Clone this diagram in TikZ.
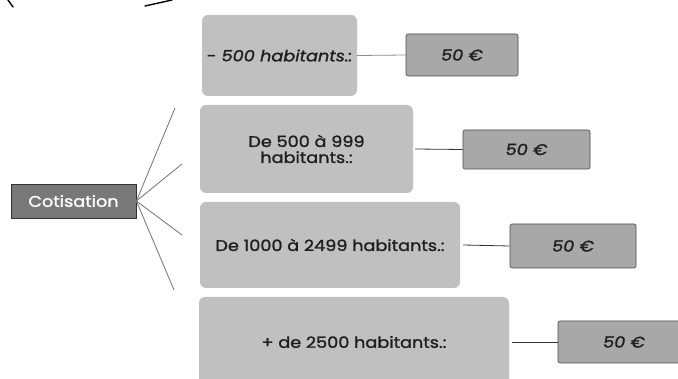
\documentclass[tikz,border=0pt]{standalone}
\usepackage{fontspec}
\setmainfont{Poppins}[FakeBold=1.4, FakeStretch=1.14]
\begin{document}
\begin{tikzpicture}[x=1pt,y=-1pt,
  rangebox/.style={draw=none, fill=rangegray, rounded corners=6pt, align=center,
    text=black!88, font=\fontsize{15.5}{16}\selectfont, inner sep=0pt},
  pricebox/.style={draw=black!70, line width=0.6pt, fill=pricegray, rounded corners=2pt,
    text=black!88, font=\fontsize{15.5}{16}\selectfont\itshape, inner sep=0pt},
  rootbox/.style={draw=black!80, line width=0.8pt, fill=rootgray, text=white,
    font=\fontsize{15.5}{16}\selectfont, inner sep=0pt},
  link/.style={draw=black!80, line width=0.8pt},
  spoke/.style={draw=black!55, line width=0.8pt},
  pen/.style={draw=black, line width=1.4pt, line cap=round}]
\definecolor{rangegray}{RGB}{192,192,192}
\definecolor{pricegray}{RGB}{168,168,168}
\definecolor{rootgray}{RGB}{120,120,120}

\useasboundingbox (0,0) rectangle (678,379);
\clip (0,0) rectangle (678,379);
\fill[white] (0,0) rectangle (678,379);

% pen strokes along the top edge
\draw[pen] (8,0) .. controls (10,3) .. (13,7);
\draw[pen] (145,6) .. controls (158,3) .. (172,0);

% root of the tree
\node[rootbox, minimum width=125pt, minimum height=34pt] (cot) at (73.5,201) {Cotisation};

% population ranges
\node[rangebox, minimum width=155pt, minimum height=81pt] (r1) at (279.5,55.5) {\itshape - 500 habitants.:};
\node[rangebox, minimum width=213pt, minimum height=88pt] (r2) at (306.5,149) {De 500 à 999\\habitants.:};
\node[rangebox, minimum width=260pt, minimum height=86pt] (r3) at (330,245) {De 1000 à 2499 habitants.:};
\node[rangebox, minimum width=310pt, minimum height=90pt] (r4) at (354,342) {+ de 2500 habitants.:};

% fees
\node[pricebox, minimum width=112pt, minimum height=42pt] (p1) at (462,55) {50 €};
\node[pricebox, minimum width=127pt, minimum height=39pt] (p2) at (526.5,149.5) {50 €};
\node[pricebox, minimum width=126pt, minimum height=44pt] (p3) at (573,246) {50 €};
\node[pricebox, minimum width=132pt, minimum height=42pt] (p4) at (624,342) {50 €};

% range to fee connectors
\draw[link, draw=black!45] (r1.east) -- (p1.west);
\draw[link] ([xshift=2pt]r2.east) -- (p2.west);
\draw[link] ([xshift=3pt]r3.east) -- (p3.west);
\draw[link] ([xshift=3pt]r4.east) -- (p4.west);

% spokes fanning out of the root
\coordinate (s1) at (175,108);
\coordinate (s2) at (182,164);
\coordinate (s3) at (182,235);
\coordinate (s4) at (174,290);
\foreach \s in {s1,s2,s3,s4} \draw[spoke] (cot.east) -- (\s);
\end{tikzpicture}
\end{document}
